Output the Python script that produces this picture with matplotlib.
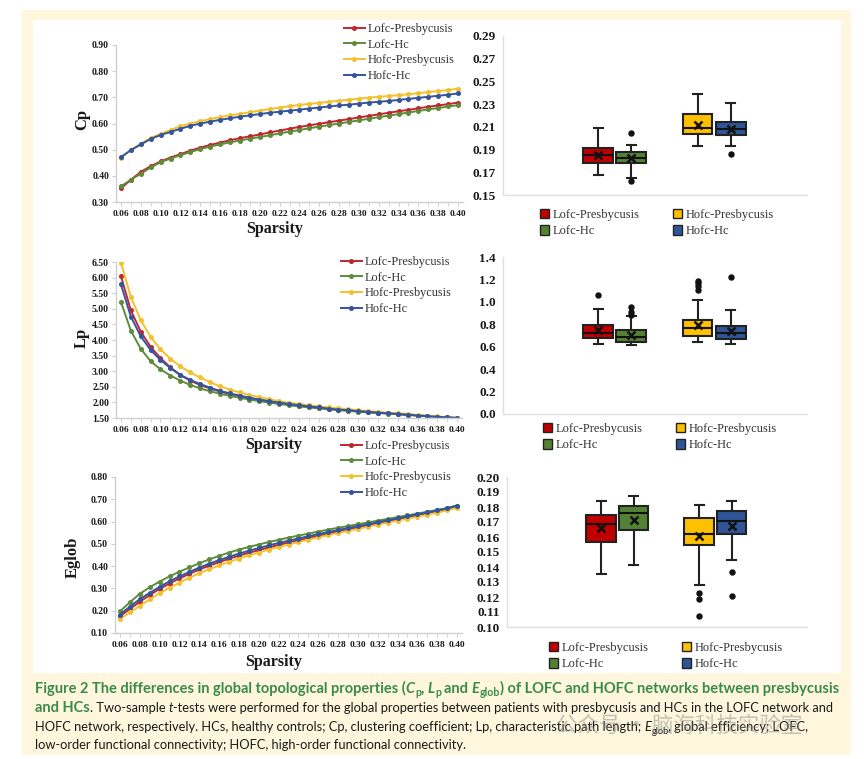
import matplotlib
matplotlib.use("Agg")
import matplotlib.pyplot as plt
from matplotlib.patches import Rectangle, Patch
from matplotlib.ticker import FixedLocator

# ---------------- data ----------------
sparsity = [0.06, 0.07, 0.08, 0.09, 0.10, 0.11, 0.12, 0.13, 0.14, 0.15, 0.16, 0.17,
            0.18, 0.19, 0.20, 0.21, 0.22, 0.23, 0.24, 0.25, 0.26, 0.27, 0.28, 0.29,
            0.30, 0.31, 0.32, 0.33, 0.34, 0.35, 0.36, 0.37, 0.38, 0.39, 0.40]
groups = ["Lofc-Presbycusis", "Lofc-Hc", "Hofc-Presbycusis", "Hofc-Hc"]

cp_lofc_pres = [0.352, 0.385, 0.415, 0.437, 0.455, 0.470, 0.483, 0.496, 0.508, 0.518, 0.527, 0.536,
                0.544, 0.551, 0.558, 0.566, 0.573, 0.580, 0.587, 0.593, 0.599, 0.605, 0.611, 0.617,
                0.623, 0.629, 0.635, 0.641, 0.647, 0.652, 0.658, 0.664, 0.669, 0.674, 0.680]
cp_lofc_hc = [0.360, 0.385, 0.408, 0.432, 0.452, 0.466, 0.479, 0.491, 0.502, 0.512, 0.520, 0.528,
              0.535, 0.542, 0.548, 0.555, 0.562, 0.569, 0.575, 0.582, 0.588, 0.594, 0.600, 0.606,
              0.612, 0.618, 0.624, 0.630, 0.636, 0.642, 0.648, 0.654, 0.659, 0.665, 0.670]
cp_hofc_pres = [0.468, 0.500, 0.522, 0.545, 0.560, 0.575, 0.590, 0.600, 0.609, 0.617, 0.624, 0.631,
                0.637, 0.643, 0.649, 0.655, 0.661, 0.666, 0.671, 0.675, 0.679, 0.683, 0.687, 0.691,
                0.695, 0.699, 0.702, 0.705, 0.708, 0.712, 0.716, 0.720, 0.724, 0.728, 0.733]
cp_hofc_hc = [0.472, 0.498, 0.520, 0.541, 0.556, 0.568, 0.580, 0.591, 0.600, 0.607, 0.614, 0.620,
              0.626, 0.631, 0.636, 0.641, 0.645, 0.649, 0.653, 0.657, 0.661, 0.665, 0.669, 0.672,
              0.676, 0.680, 0.683, 0.686, 0.690, 0.694, 0.698, 0.702, 0.706, 0.710, 0.715]

lp_lofc_pres = [6.05, 4.95, 4.27, 3.78, 3.42, 3.12, 2.88, 2.70, 2.56, 2.45, 2.35, 2.27,
                2.20, 2.14, 2.08, 2.03, 1.98, 1.94, 1.90, 1.86, 1.83, 1.80, 1.77, 1.74,
                1.72, 1.69, 1.67, 1.65, 1.62, 1.60, 1.58, 1.56, 1.54, 1.52, 1.50]
lp_lofc_hc = [5.22, 4.30, 3.72, 3.32, 3.06, 2.86, 2.70, 2.56, 2.45, 2.36, 2.28, 2.21,
              2.15, 2.09, 2.04, 1.99, 1.95, 1.91, 1.87, 1.84, 1.81, 1.78, 1.75, 1.73,
              1.70, 1.68, 1.66, 1.64, 1.62, 1.60, 1.58, 1.56, 1.54, 1.52, 1.50]
lp_hofc_pres = [6.48, 5.38, 4.64, 4.10, 3.70, 3.40, 3.16, 2.96, 2.80, 2.65, 2.52, 2.41,
                2.32, 2.24, 2.17, 2.10, 2.04, 1.99, 1.95, 1.91, 1.87, 1.84, 1.81, 1.78,
                1.75, 1.72, 1.70, 1.67, 1.65, 1.63, 1.60, 1.58, 1.55, 1.53, 1.50]
lp_hofc_hc = [5.78, 4.75, 4.12, 3.68, 3.36, 3.10, 2.88, 2.72, 2.59, 2.47, 2.37, 2.29,
              2.22, 2.15, 2.09, 2.04, 1.99, 1.95, 1.91, 1.87, 1.84, 1.80, 1.77, 1.75,
              1.72, 1.70, 1.67, 1.65, 1.63, 1.61, 1.58, 1.56, 1.54, 1.52, 1.50]

eg_lofc_pres = [0.175, 0.208, 0.240, 0.270, 0.298, 0.322, 0.345, 0.365, 0.385, 0.402, 0.418, 0.433,
                0.447, 0.460, 0.472, 0.484, 0.495, 0.506, 0.516, 0.526, 0.536, 0.546, 0.555, 0.564,
                0.573, 0.582, 0.591, 0.600, 0.609, 0.618, 0.627, 0.636, 0.645, 0.655, 0.667]
eg_lofc_hc = [0.197, 0.238, 0.276, 0.305, 0.331, 0.354, 0.375, 0.394, 0.413, 0.430, 0.446, 0.461,
              0.474, 0.486, 0.497, 0.508, 0.518, 0.528, 0.537, 0.546, 0.555, 0.564, 0.572, 0.580,
              0.588, 0.596, 0.604, 0.612, 0.620, 0.628, 0.636, 0.644, 0.652, 0.660, 0.672]
eg_hofc_pres = [0.163, 0.192, 0.222, 0.251, 0.279, 0.303, 0.326, 0.348, 0.368, 0.386, 0.403, 0.419,
                0.434, 0.448, 0.461, 0.474, 0.486, 0.497, 0.508, 0.519, 0.529, 0.539, 0.549, 0.558,
                0.567, 0.577, 0.586, 0.595, 0.604, 0.613, 0.622, 0.631, 0.640, 0.650, 0.662]
eg_hofc_hc = [0.183, 0.218, 0.252, 0.280, 0.307, 0.332, 0.354, 0.374, 0.393, 0.411, 0.427, 0.442,
              0.456, 0.469, 0.481, 0.493, 0.504, 0.514, 0.524, 0.534, 0.544, 0.553, 0.562, 0.571,
              0.580, 0.588, 0.597, 0.606, 0.614, 0.623, 0.632, 0.641, 0.650, 0.660, 0.672]

# box plot summaries (order = groups)
cp_whislo = [0.1675, 0.1652, 0.1928, 0.1928]
cp_q1 = [0.1784, 0.1780, 0.2041, 0.2032]
cp_med = [0.1855, 0.1822, 0.2089, 0.2083]
cp_q3 = [0.1914, 0.1882, 0.2210, 0.2139]
cp_whishi = [0.2089, 0.1942, 0.2390, 0.2306]
cp_mean = [0.1855, 0.1822, 0.2120, 0.2083]
cp_fliers = [[], [0.2049, 0.1625], [], [0.1858]]

lp_whislo = [0.625, 0.616, 0.643, 0.622]
lp_q1 = [0.677, 0.646, 0.695, 0.671]
lp_med = [0.723, 0.686, 0.763, 0.720]
lp_q3 = [0.796, 0.750, 0.840, 0.784]
lp_whishi = [0.940, 0.870, 1.017, 0.931]
lp_mean = [0.753, 0.707, 0.793, 0.741]
lp_fliers = [[1.063], [0.953, 0.910, 0.879], [1.190, 1.167, 1.140, 1.110], [1.222]]

eg_whislo = [0.1353, 0.1411, 0.1280, 0.1447]
eg_q1 = [0.1567, 0.1645, 0.1545, 0.1623]
eg_med = [0.1686, 0.1760, 0.1623, 0.1709]
eg_q3 = [0.1749, 0.1807, 0.1729, 0.1775]
eg_whishi = [0.1838, 0.1872, 0.1816, 0.1840]
eg_mean = [0.1660, 0.1716, 0.1610, 0.1673]
eg_fliers = [[], [], [0.1227, 0.1184, 0.1073], [0.1366, 0.1209]]

cp_ticks = [0.30, 0.40, 0.50, 0.60, 0.70, 0.80, 0.90]
lp_ticks = [1.50, 2.00, 2.50, 3.00, 3.50, 4.00, 4.50, 5.00, 5.50, 6.00, 6.50]
eg_ticks = [0.10, 0.20, 0.30, 0.40, 0.50, 0.60, 0.70, 0.80]
cpb_ticks = [0.15, 0.17, 0.19, 0.21, 0.23, 0.25, 0.27, 0.29]
lpb_ticks = [0.0, 0.2, 0.4, 0.6, 0.8, 1.0, 1.2, 1.4]
egb_ticks = [0.10, 0.11, 0.12, 0.13, 0.14, 0.15, 0.16, 0.17, 0.18, 0.19, 0.20]

# ---------------- style ----------------
W, H = 864, 759
line_colors = ["#C0272D", "#5E8C3A", "#F2C12E", "#34549E"]
box_colors = ["#C00000", "#548235", "#FFC000", "#2F5597"]
SERIF = "Liberation Serif"
TXT = "#1a1a1a"
SPINE = "#D0D0D0"

fig = plt.figure(figsize=(W / 100, H / 100), dpi=100)
fig.patch.set_facecolor("white")


def fx(x):
    return x / W


def fy(y):
    return 1 - y / H


def rect(left, top, right, bottom):
    return [left / W, 1 - bottom / H, (right - left) / W, (bottom - top) / H]


fig.add_artist(Rectangle((fx(22), fy(755)), (851 - 22) / W, (755 - 10) / H,
                         transform=fig.transFigure, facecolor="#FEF7DD", edgecolor="none", zorder=-5))
fig.add_artist(Rectangle((fx(33), fy(673)), (841 - 33) / W, (673 - 20) / H,
                         transform=fig.transFigure, facecolor="white", edgecolor="none", zorder=-4))


def line_panel(box, series, ticks, fmt, ylabel, ylabel_x, ylabel_y, sp_y, leg_x, leg_top):
    ax = fig.add_axes(rect(*box))
    ax.set_facecolor("none")
    idx = list(range(len(sparsity)))
    handles = []
    for vals, col, name in zip(series, line_colors, groups):
        h, = ax.plot(idx, vals, color=col, lw=1.4, marker="o", ms=2.6, mec=col, mfc=col, label=name)
        handles.append(h)
    ax.set_xlim(-0.5, len(sparsity) - 0.5)
    ax.set_ylim(ticks[0], ticks[-1])
    ax.set_yticks(ticks)
    ax.set_yticklabels([fmt.format(t) for t in ticks])
    ax.set_xticks(idx[::2])
    ax.set_xticklabels(["{:.2f}".format(s) for s in sparsity[::2]])
    ax.xaxis.set_minor_locator(FixedLocator(idx))
    for s in ["top", "right"]:
        ax.spines[s].set_visible(False)
    for s in ["left", "bottom"]:
        ax.spines[s].set_color(SPINE)
        ax.spines[s].set_linewidth(1.0)
    ax.tick_params(axis="y", length=3, color=SPINE, pad=2, labelsize=7)
    ax.tick_params(axis="x", which="both", length=3, color=SPINE, pad=3, labelsize=6.8)
    for lab in ax.get_xticklabels() + ax.get_yticklabels():
        lab.set_fontfamily(SERIF)
        lab.set_fontweight("bold")
        lab.set_color(TXT)
    fig.text(fx(ylabel_x), fy(ylabel_y), ylabel, rotation=90, ha="center", va="center",
             fontsize=12, fontweight="bold", family=SERIF, color=TXT)
    fig.text(fx(box[0] + (box[2] - box[0]) / 2 - 15), fy(sp_y), "Sparsity", ha="center", va="center",
             fontsize=11.5, fontweight="bold", family=SERIF, color=TXT)
    ax.legend(handles=handles, loc="upper left", bbox_to_anchor=(fx(leg_x), fy(leg_top)),
              bbox_transform=fig.transFigure, frameon=False, borderpad=0, borderaxespad=0,
              handlelength=1.7, handletextpad=0.2, labelspacing=0.3,
              prop={"family": SERIF, "size": 8.8}, labelcolor="#333333")
    return ax


line_panel((116, 45, 463, 202), [cp_lofc_pres, cp_lofc_hc, cp_hofc_pres, cp_hofc_hc],
           cp_ticks, "{:.2f}", "Cp", 82, 120, 229, 344, 23)
line_panel((116, 262, 462, 418), [lp_lofc_pres, lp_lofc_hc, lp_hofc_pres, lp_hofc_hc],
           lp_ticks, "{:.2f}", "Lp", 82, 338, 445, 341, 256)
line_panel((115, 477, 462, 633), [eg_lofc_pres, eg_lofc_hc, eg_hofc_pres, eg_hofc_hc],
           eg_ticks, "{:.2f}", "Eglob", 73, 557, 662, 341, 440)

positions = [0.3135, 0.422, 0.640, 0.749]


def box_panel(box, whislo, q1, med, q3, whishi, mean, fliers, ticks, fmt, leg_x, leg_top):
    ax = fig.add_axes(rect(*box))
    ax.set_facecolor("none")
    stats = []
    for i in range(4):
        stats.append(dict(whislo=whislo[i], q1=q1[i], med=med[i], q3=q3[i], whishi=whishi[i],
                          mean=mean[i], fliers=fliers[i]))
    bp = ax.bxp(stats, positions=positions, widths=0.098, patch_artist=True, showmeans=True,
                showfliers=True, capwidths=0.03,
                boxprops=dict(edgecolor="#222222", linewidth=1.5),
                medianprops=dict(color="#111111", linewidth=1.5),
                whiskerprops=dict(color="#222222", linewidth=1.5),
                capprops=dict(color="#222222", linewidth=1.5),
                meanprops=dict(marker="x", markeredgecolor="#111111", markersize=5.5, markeredgewidth=1.8),
                flierprops=dict(marker="o", markerfacecolor="#111111", markeredgecolor="#111111",
                                markersize=3.6))
    for patch, col in zip(bp["boxes"], box_colors):
        patch.set_facecolor(col)
    ax.set_xlim(0, 1)
    ax.set_ylim(ticks[0], ticks[-1])
    ax.set_yticks(ticks)
    ax.set_yticklabels([fmt.format(t) for t in ticks])
    ax.set_xticks([])
    for s in ["top", "right"]:
        ax.spines[s].set_visible(False)
    for s in ["left", "bottom"]:
        ax.spines[s].set_color("#E0E0E0")
        ax.spines[s].set_linewidth(1.0)
    ax.tick_params(axis="y", length=0, pad=5, labelsize=9.5)
    for lab in ax.get_yticklabels():
        lab.set_fontfamily(SERIF)
        lab.set_fontweight("bold")
        lab.set_color(TXT)
    handles = [Patch(facecolor=c, edgecolor="#222222", linewidth=1.0, label=g)
               for c, g in zip(box_colors, groups)]
    ax.legend(handles=handles, ncol=2, loc="upper left", bbox_to_anchor=(fx(leg_x), fy(leg_top)),
              bbox_transform=fig.transFigure, frameon=False, borderpad=0, borderaxespad=0,
              handlelength=0.75, handleheight=0.75, handletextpad=0.3, labelspacing=0.35,
              columnspacing=2.6, prop={"family": SERIF, "size": 9}, labelcolor="#333333")
    return ax


box_panel((503, 36, 807, 195), cp_whislo, cp_q1, cp_med, cp_q3, cp_whishi, cp_mean, cp_fliers,
          cpb_ticks, "{:.2f}", 540, 209)
box_panel((503, 257, 807, 414), lp_whislo, lp_q1, lp_med, lp_q3, lp_whishi, lp_mean, lp_fliers,
          lpb_ticks, "{:.1f}", 543, 423)
box_panel((507, 477, 807, 627), eg_whislo, eg_q1, eg_med, eg_q3, eg_whishi, eg_mean, eg_fliers,
          egb_ticks, "{:.2f}", 549, 642)

# ---------------- caption ----------------
CAP = "Lato"
GREEN = "#3A8A4A"
fig.canvas.draw()
renderer = fig.canvas.get_renderer()


def text_width(s, size, **kw):
    t1 = fig.text(0, 0, "|" + s + "|", fontsize=size, family=CAP, **kw)
    t2 = fig.text(0, 0, "||", fontsize=size, family=CAP, **kw)
    w = t1.get_window_extent(renderer).width - t2.get_window_extent(renderer).width
    t1.remove()
    t2.remove()
    return w


def split_kw(kw, sizes):
    kw = dict(kw)
    sc = kw.pop("scale", 1.0)
    dy = kw.pop("dy", 0.0)
    role = kw.pop("role")
    return kw, sizes[role] * sc, dy


def draw_runs(x0, ybase, runs, sizes):
    x = x0
    for s, kw in runs:
        kw, size, dy = split_kw(kw, sizes)
        stripped = s.lstrip(" ")
        nlead = len(s) - len(stripped)
        if nlead:
            x += text_width(" " * nlead, size, **kw)
        if stripped:
            fig.text(fx(x), fy(ybase + dy), stripped, fontsize=size, family=CAP,
                     ha="left", va="baseline", **kw)
            x += text_width(stripped, size, **kw)
    return x


def runs_width(runs, sizes, role=None):
    tot = 0
    for s, kw in runs:
        if role is not None and kw["role"] != role:
            continue
        kw2, size, dy = split_kw(kw, sizes)
        tot += text_width(s, size, **kw2)
    return tot


B = dict(role="b", color=GREEN, fontweight="bold")
BI = dict(role="b", color=GREEN, fontweight="bold", fontstyle="italic")
BS = dict(role="b", color=GREEN, fontweight="bold", scale=0.72, dy=2.5)
N = dict(role="n", color="#1a1a1a")
NI = dict(role="n", color="#1a1a1a", fontstyle="italic")
NS = dict(role="n", color="#1a1a1a", scale=0.72, dy=2.5)

line1 = [("Figure 2 The differences in global topological properties (", B), ("C", BI), ("p", BS),
         (", ", B), ("L", BI), ("p", BS), (" and ", B), ("E", BI), ("glob", BS),
         (") of LOFC and HOFC networks between presbycusis", B)]
line2 = [("and HCs", B), (". Two-sample ", N), ("t", NI),
         ("-tests were performed for the global properties between patients with presbycusis and HCs in the LOFC network and", N)]
line3 = [("HOFC network, respectively. HCs, healthy controls; Cp, clustering coefficient; Lp, characteristic path length; ", N),
         ("E", NI), ("glob", NS), (", global efficiency; LOFC,", N)]
line4 = [("low-order functional connectivity; HOFC, high-order functional connectivity.", N)]

base = {"b": 9.0, "n": 9.0}
sb = 9.0 * (838 - 35) / runs_width(line1, base)
sizes = {"b": sb, "n": 9.0}
avail = (838 - 35) - runs_width(line2, sizes, role="b")
sn = 9.0 * avail / runs_width(line2, sizes, role="n")
sizes = {"b": sb, "n": sn}
draw_runs(35, 693, line1, sizes)
draw_runs(35, 712, line2, sizes)
draw_runs(35, 731, line3, sizes)
draw_runs(35, 749, line4, sizes)

fig.text(fx(556), fy(726), "公众号 · 脑海科技实验室", fontsize=15.5, ha="left", va="center",
         family=["Noto Sans CJK SC", "DejaVu Sans"], color="#8a8a8a", alpha=0.5)

fig.savefig("out.png", dpi=100, facecolor="white")
